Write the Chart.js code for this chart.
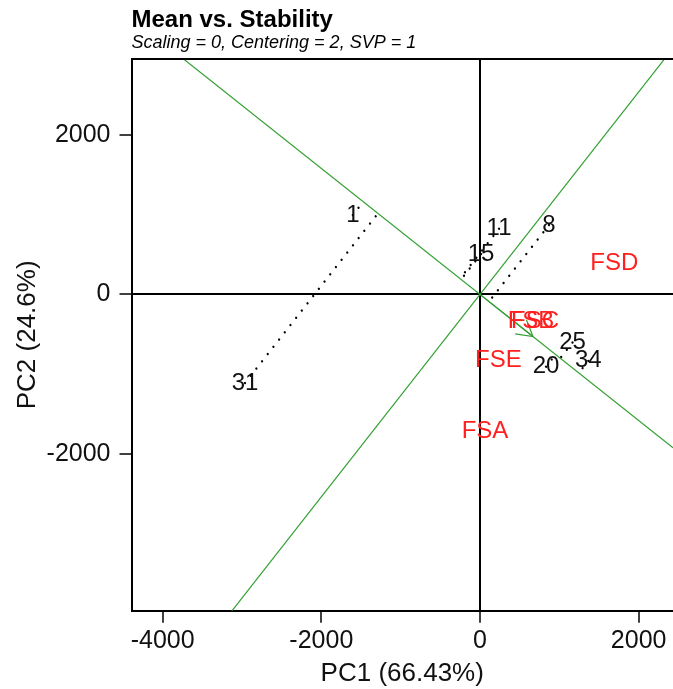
<!DOCTYPE html>
<html>
<head>
<meta charset="utf-8">
<title>Mean vs. Stability</title>
<script src="https://cdn.jsdelivr.net/npm/chart.js@4/dist/chart.umd.min.js"></script>
<style>
  html, body { margin: 0; padding: 0; background: #fff; overflow: hidden; }
  canvas { display: block; }
</style>
</head>
<body>
<canvas id="biplot" width="673" height="689"></canvas>
<script>
// Genotype scores on the first two principal components
const genotypes = ['1', '11', '15', '8', '25', '34', '20', '31'];
const genoPC1 = [-1603, 240, 13, 870, 1166, 1365, 832, -2962];
const genoPC2 = [994, 823, 506, 869, -602, -832, -905, -1110];

// Environment scores (FSC is drawn before FSB, which sits on top of it)
const environments = ['FSD', 'FSC', 'FSB', 'FSE', 'FSA'];
const envPC1 = [1692, 693, 643, 231, 63];
const envPC2 = [389, -333, -333, -822, -1719];

// Average environment coordinate (defines the average-environment axis)
const meanEnv = [668, -527];

// Axis ticks
const xTicks = [-4000, -2000, 0, 2000];
const yTicks = [-2000, 0, 2000];

const FONT = '"Liberation Sans", Arial, Helvetica, sans-serif';
const X_MIN = -4393, X_MAX = 2433, Y_MIN = -3961, Y_MAX = 2948;
const GREEN = '#34a034';

// Average-environment axis (through the origin and the mean environment)
// and the perpendicular line through the origin
const aeaSlope = meanEnv[1] / meanEnv[0];
const perpSlope = -1 / aeaSlope;
const aeaLine = [{ x: X_MIN, y: aeaSlope * X_MIN }, { x: X_MAX, y: aeaSlope * X_MAX }];
const perpLine = [{ x: X_MIN, y: perpSlope * X_MIN }, { x: X_MAX, y: perpSlope * X_MAX }];

// Projection of a genotype onto the average-environment axis
function projectOnAea(px, py) {
  const n = Math.hypot(meanEnv[0], meanEnv[1]);
  const ux = meanEnv[0] / n, uy = meanEnv[1] / n;
  const d = px * ux + py * uy;
  return { x: d * ux, y: d * uy };
}

const datasets = [
  { data: aeaLine, borderColor: GREEN, borderWidth: 1.2 },
  { data: perpLine, borderColor: GREEN, borderWidth: 1.2 },
  { data: [{ x: 0, y: 0 }, { x: meanEnv[0], y: meanEnv[1] }], borderColor: GREEN, borderWidth: 1.2 }
];
genotypes.forEach((g, i) => {
  const p = projectOnAea(genoPC1[i], genoPC2[i]);
  datasets.push({
    data: [{ x: genoPC1[i], y: genoPC2[i] }, p],
    borderColor: '#000',
    borderWidth: 2.3,
    borderDash: [0.01, 9.2],
    borderCapStyle: 'round'
  });
});
datasets.forEach(d => {
  d.showLine = true;
  d.pointRadius = 0;
  d.fill = false;
});

// Title, subtitle, top frame, arrow head and point labels
const biplotDecor = {
  id: 'biplotDecor',
  afterDatasetsDraw(chart) {
    const { ctx, chartArea, scales } = chart;
    const xs = scales.x, ys = scales.y;
    ctx.save();

    // top frame line
    ctx.strokeStyle = '#000';
    ctx.lineWidth = 2;
    ctx.beginPath();
    ctx.moveTo(chartArea.left, chartArea.top);
    ctx.lineTo(chartArea.right, chartArea.top);
    ctx.stroke();

    // arrow head at the mean environment
    const ox = xs.getPixelForValue(0), oy = ys.getPixelForValue(0);
    const tx = xs.getPixelForValue(meanEnv[0]), ty = ys.getPixelForValue(meanEnv[1]);
    const ang = Math.atan2(ty - oy, tx - ox);
    const L = 18, A = Math.PI / 6;
    ctx.strokeStyle = GREEN;
    ctx.lineWidth = 1.2;
    ctx.beginPath();
    ctx.moveTo(tx - L * Math.cos(ang - A), ty - L * Math.sin(ang - A));
    ctx.lineTo(tx, ty);
    ctx.lineTo(tx - L * Math.cos(ang + A), ty - L * Math.sin(ang + A));
    ctx.stroke();

    // labels
    ctx.textAlign = 'center';
    ctx.textBaseline = 'middle';
    ctx.font = '24px ' + FONT;
    ctx.fillStyle = '#ff1f1f';
    environments.forEach((e, i) => {
      ctx.fillText(e, xs.getPixelForValue(envPC1[i]), ys.getPixelForValue(envPC2[i]));
    });
    ctx.fillStyle = '#111';
    genotypes.forEach((g, i) => {
      ctx.fillText(g, xs.getPixelForValue(genoPC1[i]), ys.getPixelForValue(genoPC2[i]));
    });

    // title and subtitle
    ctx.textAlign = 'left';
    ctx.textBaseline = 'alphabetic';
    ctx.fillStyle = '#000';
    ctx.font = 'bold 24px ' + FONT;
    ctx.fillText('Mean vs. Stability', chartArea.left, 26.5);
    ctx.font = 'italic 18px ' + FONT;
    ctx.fillText('Scaling = 0, Centering = 2, SVP = 1', chartArea.left, 47.5);
    ctx.restore();
  }
};

const zeroGrid = c => (c.tick && c.tick.value === 0) ? '#000' : 'rgba(0,0,0,0)';

new Chart(document.getElementById('biplot'), {
  type: 'scatter',
  data: { datasets },
  options: {
    responsive: false,
    animation: false,
    events: [],
    layout: { padding: { top: 59, left: 0, right: 0, bottom: 0 } },
    plugins: { legend: { display: false }, tooltip: { enabled: false }, title: { display: false } },
    scales: {
      x: {
        type: 'linear',
        min: X_MIN,
        max: X_MAX,
        afterBuildTicks: s => { s.ticks = xTicks.map(v => ({ value: v })); },
        afterFit: s => { s.height = 689 - 610.7; },
        grid: { color: zeroGrid, lineWidth: 2, tickColor: '#000', tickWidth: 1.5, tickLength: 12 },
        border: { display: true, color: '#000', width: 2 },
        ticks: { font: { family: FONT, size: 25 }, color: '#111', padding: 3, maxRotation: 0, autoSkip: false, callback: v => String(v) },
        title: { display: true, text: 'PC1 (66.43%)', font: { family: FONT, size: 26 }, color: '#111', padding: { top: 0, bottom: 0 } }
      },
      y: {
        type: 'linear',
        min: Y_MIN,
        max: Y_MAX,
        afterBuildTicks: s => { s.ticks = yTicks.map(v => ({ value: v })); },
        afterFit: s => { s.width = 131.5; },
        grid: { color: zeroGrid, lineWidth: 2, tickColor: '#000', tickWidth: 1.5, tickLength: 12 },
        border: { display: true, color: '#000', width: 2 },
        ticks: { font: { family: FONT, size: 25 }, color: '#111', padding: 9, autoSkip: false, callback: v => String(v) },
        title: { display: true, text: 'PC2 (24.6%)', font: { family: FONT, size: 26 }, color: '#111', padding: { top: 12, bottom: 0 } }
      }
    }
  },
  plugins: [biplotDecor]
});
</script>
</body>
</html>
